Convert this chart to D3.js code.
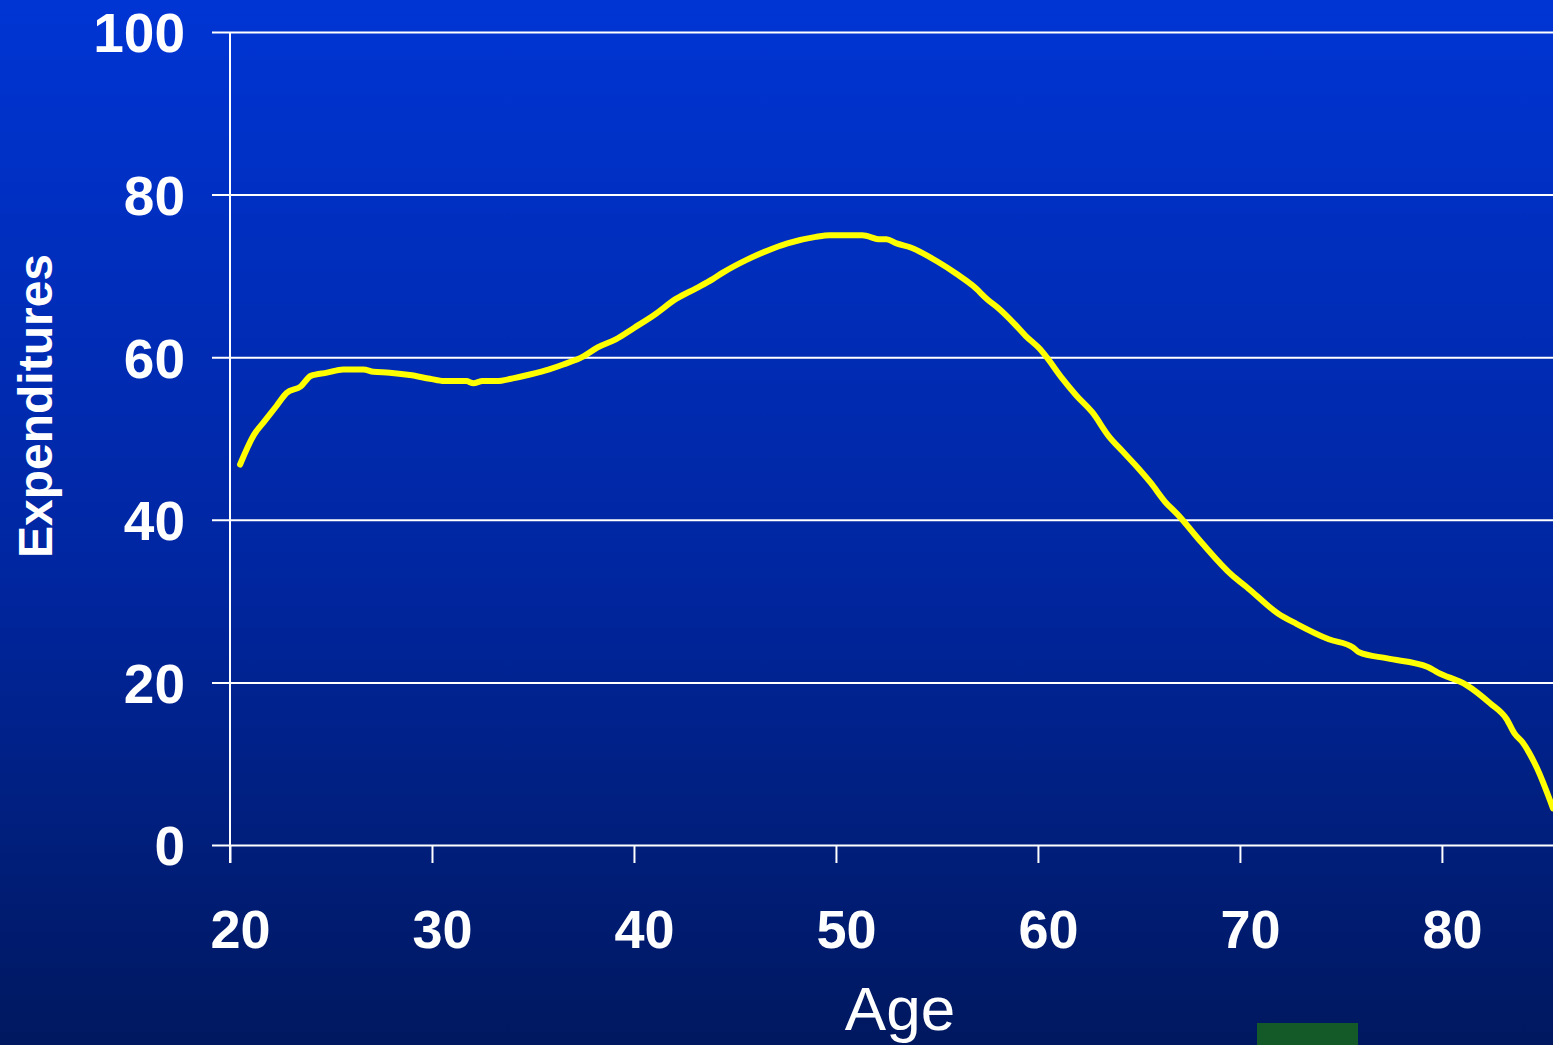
<!DOCTYPE html>
<html>
<head>
<meta charset="utf-8">
<script src="https://cdn.jsdelivr.net/npm/d3@7"></script>
<style>
  html, body { margin: 0; padding: 0; overflow: hidden; background: #001a66; }
  svg { display: block; }
  text { font-family: "Liberation Sans", Arial, sans-serif; fill: #ffffff; }
</style>
</head>
<body>
<svg id="chart" width="1553" height="1045"></svg>
<script>
// Spending profile by age
const ages = [20.5, 21.2, 21.7, 22.3, 22.8, 23.5, 24.0, 24.8, 25.6, 26.6, 27.1, 27.9, 28.9, 29.9,
  30.6, 31.7, 32.05, 32.5, 33.2, 34.0, 34.9, 35.8, 36.5, 37.5, 38.2, 39.1, 40.0, 41.0, 42.1,
  43.1, 43.9, 44.4, 45.6, 46.6, 47.6, 49.0, 49.7, 51.3, 52.2, 52.5, 53.0, 53.7, 55.0, 56.0,
  56.8, 57.5, 58.1, 58.8, 59.4, 60.1, 60.4, 61.2, 61.9, 62.7, 63.5, 64.2, 64.8, 65.6, 66.3,
  66.9, 68.1, 69.6, 70.3, 71.9, 72.8, 74.4, 75.6, 75.9, 77.3, 79.3, 79.8, 81.2, 82.4, 83.2,
  83.6, 84.0, 84.7, 85.5];
const expenditures = [46.8, 50.5, 52.1, 54.0, 55.6, 56.4, 57.7, 58.1, 58.5, 58.5, 58.2, 58.1, 57.8, 57.35,
  57.06, 57.06, 56.8, 57.06, 57.06, 57.4, 57.9, 58.5, 59.1, 60.1, 61.2, 62.2, 63.6, 65.2, 67.2,
  68.5, 69.6, 70.4, 72.0, 73.1, 74.0, 74.8, 75.0, 75.0, 74.5, 74.5, 74.0, 73.5, 71.8, 70.2,
  68.75, 67.1, 65.9, 64.2, 62.6, 61.0, 60.1, 57.4, 55.3, 53.2, 50.3, 48.4, 46.8, 44.5, 42.2,
  40.7, 37.2, 33.2, 31.8, 28.45, 27.2, 25.3, 24.3, 23.7, 22.95, 21.9, 21.2, 19.7, 17.4, 15.5,
  13.7, 12.6, 9.5, 4.5];
const xTicks = [20, 30, 40, 50, 60, 70, 80];
const yTicks = [0, 20, 40, 60, 80, 100];

const W = 1553, H = 1045;
const svg = d3.select("#chart");

// Background gradient
const defs = svg.append("defs");
const grad = defs.append("linearGradient").attr("id", "bg")
  .attr("x1", 0).attr("y1", 0).attr("x2", 0).attr("y2", 1);
grad.append("stop").attr("offset", "0%").attr("stop-color", "#0035d4");
grad.append("stop").attr("offset", "55%").attr("stop-color", "#0026a0");
grad.append("stop").attr("offset", "100%").attr("stop-color", "#00185f");
svg.append("rect").attr("width", W).attr("height", H).attr("fill", "url(#bg)");

const x = d3.scaleLinear().domain([20, 85.5]).range([230, W]);
const y = d3.scaleLinear().domain([0, 100]).range([845, 32]);

// Horizontal gridlines (extend past the axis as tick marks)
svg.append("g")
  .attr("transform", `translate(${W},0)`)
  .call(d3.axisLeft(y).tickValues(yTicks).tickSize(W - 212).tickFormat(""))
  .call(g => g.select(".domain").remove())
  .call(g => g.selectAll("line").attr("stroke", "#ffffff").attr("stroke-width", 2));

// Y tick labels
svg.append("g")
  .attr("transform", "translate(230,0)")
  .call(d3.axisLeft(y).tickValues(yTicks).tickSize(0).tickPadding(45))
  .call(g => g.select(".domain").remove())
  .call(g => g.selectAll("text")
    .attr("fill", "#ffffff")
    .style("font-size", "55px").style("font-weight", "bold")
    .attr("dy", "0.36em"));

// X axis with ticks below the baseline
svg.append("g")
  .attr("transform", "translate(0,845)")
  .call(d3.axisBottom(x).tickValues(xTicks).tickSize(18).tickPadding(47))
  .call(g => g.select(".domain").remove())
  .call(g => g.selectAll("line").attr("stroke", "#ffffff").attr("stroke-width", 2))
  .call(g => g.selectAll("text")
    .attr("fill", "#ffffff")
    .attr("dx", 10)
    .style("font-size", "54px").style("font-weight", "bold"));

// Vertical axis line
svg.append("line")
  .attr("x1", 230).attr("x2", 230)
  .attr("y1", y(100)).attr("y2", 863)
  .attr("stroke", "#ffffff").attr("stroke-width", 2);

// Data line
const line = d3.line()
  .x((d, i) => x(ages[i]))
  .y(d => y(d))
  .curve(d3.curveMonotoneX);
svg.append("path")
  .datum(expenditures)
  .attr("d", line)
  .attr("fill", "none")
  .attr("stroke", "#ffff00")
  .attr("stroke-width", 6)
  .attr("stroke-linejoin", "round")
  .attr("stroke-linecap", "round");

// Axis titles
svg.append("text")
  .attr("transform", "translate(52,406) rotate(-90)")
  .attr("text-anchor", "middle")
  .style("font-size", "48px").style("font-weight", "bold")
  .text("Expenditures");

svg.append("text")
  .attr("x", 900).attr("y", 1030)
  .attr("text-anchor", "middle")
  .style("font-size", "62px")
  .text("Age");

// Small green block at the bottom edge
svg.append("rect")
  .attr("x", 1257).attr("y", 1023)
  .attr("width", 101).attr("height", 22)
  .attr("fill", "#145a28");
</script>
</body>
</html>
